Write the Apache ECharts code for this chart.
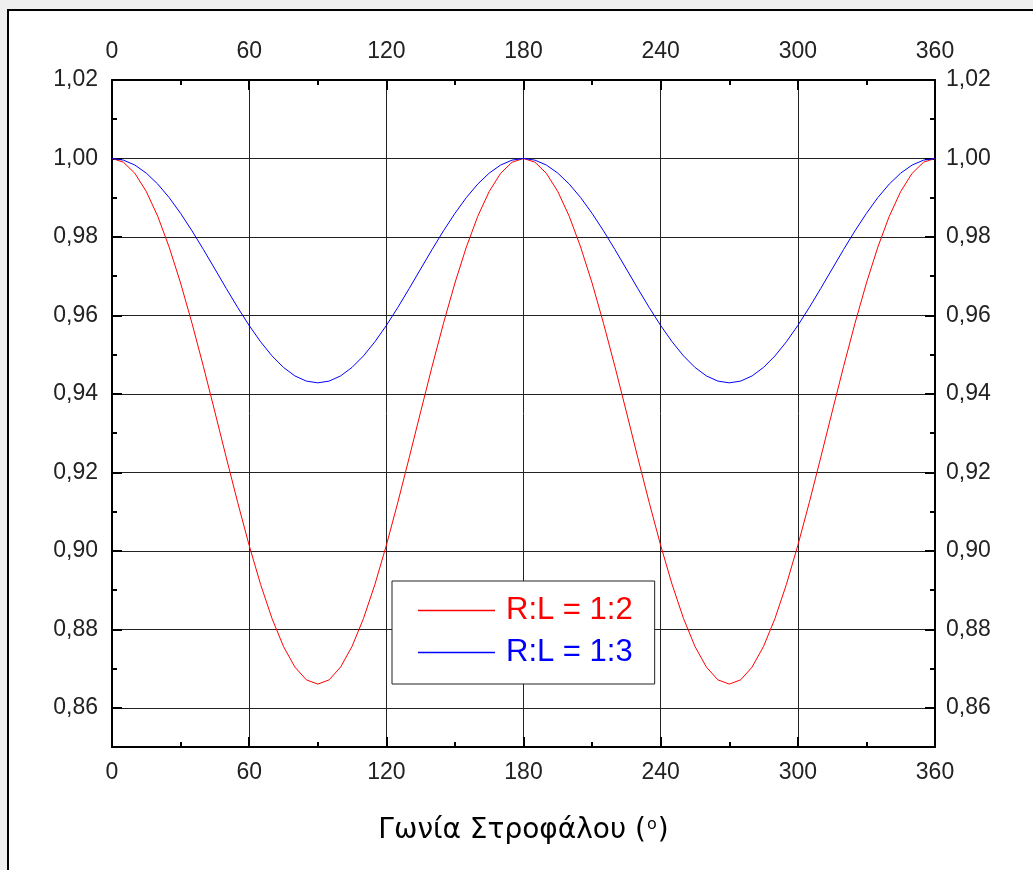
<!DOCTYPE html>
<html>
<head>
<meta charset="utf-8">
<script src="https://cdn.jsdelivr.net/npm/echarts@6/dist/echarts.min.js"></script>
<style>
  html, body { margin: 0; padding: 0; width: 1033px; height: 870px; overflow: hidden; background: #efefef; }
  #frame { position: absolute; left: 7px; top: 9px; width: 1040px; height: 880px; background: #fff; border-left: 2px solid #000; border-top: 2px solid #000; }
  #chart { position: absolute; left: 0; top: 0; width: 1033px; height: 870px; }
</style>
</head>
<body>
<div id="frame"></div>
<div id="chart"></div>
<script>
// Crank angle (degrees)
const angles = [0,5,10,15,20,25,30,35,40,45,50,55,60,65,70,75,80,85,90,
  95,100,105,110,115,120,125,130,135,140,145,150,155,160,165,170,175,180,
  185,190,195,200,205,210,215,220,225,230,235,240,245,250,255,260,265,270,
  275,280,285,290,295,300,305,310,315,320,325,330,335,340,345,350,355,360];

// R:L = 1:2
const ratio12 = [1.00000,0.99905,0.99622,0.99159,0.98527,0.97742,0.96825,0.95799,0.94695,0.93541,0.92374,0.91228,0.90139,0.89143,0.88275,0.87564,0.87037,0.86712,0.86603,
  0.86712,0.87037,0.87564,0.88275,0.89143,0.90139,0.91228,0.92374,0.93541,0.94695,0.95799,0.96825,0.97742,0.98527,0.99159,0.99622,0.99905,1.00000,
  0.99905,0.99622,0.99159,0.98527,0.97742,0.96825,0.95799,0.94695,0.93541,0.92374,0.91228,0.90139,0.89143,0.88275,0.87564,0.87037,0.86712,0.86603,
  0.86712,0.87037,0.87564,0.88275,0.89143,0.90139,0.91228,0.92374,0.93541,0.94695,0.95799,0.96825,0.97742,0.98527,0.99159,0.99622,0.99905,1.00000];

// R:L = 1:3
const ratio13 = [1.00000,0.99958,0.99832,0.99627,0.99348,0.99003,0.98601,0.98156,0.97678,0.97183,0.96685,0.96200,0.95743,0.95328,0.94968,0.94675,0.94458,0.94326,0.94281,
  0.94326,0.94458,0.94675,0.94968,0.95328,0.95743,0.96200,0.96685,0.97183,0.97678,0.98156,0.98601,0.99003,0.99348,0.99627,0.99832,0.99958,1.00000,
  0.99958,0.99832,0.99627,0.99348,0.99003,0.98601,0.98156,0.97678,0.97183,0.96685,0.96200,0.95743,0.95328,0.94968,0.94675,0.94458,0.94326,0.94281,
  0.94326,0.94458,0.94675,0.94968,0.95328,0.95743,0.96200,0.96685,0.97183,0.97678,0.98156,0.98601,0.99003,0.99348,0.99627,0.99832,0.99958,1.00000];

const yTicks = [0.86,0.88,0.90,0.92,0.94,0.96,0.98,1.00,1.02];
const seriesNames = ['R:L = 1:2', 'R:L = 1:3'];
const xTitle = 'Γωνία Στροφάλου (';

const FONT = 'Arial, "Liberation Sans", sans-serif';
const TITLE_FONT = '"DejaVu Sans", Verdana, sans-serif';
const labelStyle = { color: '#222', fontSize: 23, fontFamily: FONT };

function pairs(ys) { return angles.map((a, i) => [a, ys[i]]); }
function fmtY(v) { return v.toFixed(2).replace('.', ','); }

function xAx(pos, main) {
  return {
    type: 'value', position: pos, min: 0, max: 360, interval: 60,
    axisLine: { show: true, onZero: false, lineStyle: { color: '#000', width: 2 } },
    axisTick: { show: true, inside: true, length: 10, lineStyle: { color: '#000', width: 2 } },
    minorTick: { show: true, splitNumber: 2, length: 5, lineStyle: { color: '#000', width: 2 } },
    axisLabel: Object.assign({ margin: pos === 'bottom' ? 14 : 17 }, labelStyle),
    splitLine: { show: main, lineStyle: { color: '#222', width: 1 } },
    minorSplitLine: { show: false },
    name: '',
    nameLocation: 'middle', nameGap: 70,
    nameTextStyle: {
      color: '#000', fontSize: 28, fontFamily: TITLE_FONT,
      rich: { sup: { fontSize: 16, color: '#000', fontFamily: TITLE_FONT, verticalAlign: 'top', padding: [0, 1, 12, 1] } }
    }
  };
}
function yAxMain(pos, main) {
  return {
    type: 'value', position: pos, min: 0.85, max: 1.02, interval: 0.01,
    axisLine: { show: true, onZero: false, lineStyle: { color: '#000', width: 2 } },
    axisTick: { show: true, inside: true, length: 10, customValues: yTicks, lineStyle: { color: '#000', width: 2 } },
    axisLabel: Object.assign({ margin: pos === 'left' ? 14 : 11, customValues: yTicks, formatter: fmtY }, labelStyle),
    splitLine: { show: main, lineStyle: { color: '#222', width: 1 } }
  };
}
function yAxMinor(pos) {
  return {
    type: 'value', position: pos, min: 0.85, max: 1.02, interval: 0.01,
    axisLine: { show: false, onZero: false },
    axisTick: { show: true, inside: true, length: 5, lineStyle: { color: '#000', width: 2 } },
    axisLabel: { show: false },
    splitLine: { show: false }
  };
}

const chart = echarts.init(document.getElementById('chart'), null, { renderer: 'canvas' });
const xAxisMain = xAx('bottom', true);
xAxisMain.name = xTitle + '{sup|o})';
chart.setOption({
  animation: false,
  backgroundColor: 'transparent',
  grid: { left: 112, right: 98, top: 80, bottom: 123, containLabel: false },
  xAxis: [xAxisMain, xAx('top', false)],
  yAxis: [yAxMain('left', true), yAxMain('right', false), yAxMinor('left'), yAxMinor('right')],
  legend: {
    orient: 'vertical', left: 392, top: 581,
    padding: [14, 22, 16, 26],
    backgroundColor: '#fff', borderColor: '#222', borderWidth: 1, borderRadius: 0,
    icon: 'rect', itemWidth: 77, itemHeight: 1.5, itemGap: 11,
    textStyle: { fontSize: 31, fontFamily: FONT, padding: [0, 0, 0, 6] },
    data: [
      { name: seriesNames[0], textStyle: { color: '#ff0000' } },
      { name: seriesNames[1], textStyle: { color: '#0000ff' } }
    ]
  },
  series: [
    { name: seriesNames[0], type: 'line', xAxisIndex: 0, yAxisIndex: 0, data: pairs(ratio12),
      symbol: 'none', showSymbol: false, lineStyle: { color: '#ff0000', width: 1 }, itemStyle: { color: '#ff0000' }, z: 5 },
    { name: seriesNames[1], type: 'line', xAxisIndex: 0, yAxisIndex: 0, data: pairs(ratio13),
      symbol: 'none', showSymbol: false, lineStyle: { color: '#0000ff', width: 1 }, itemStyle: { color: '#0000ff' }, z: 5 }
  ]
});
</script>
</body>
</html>
